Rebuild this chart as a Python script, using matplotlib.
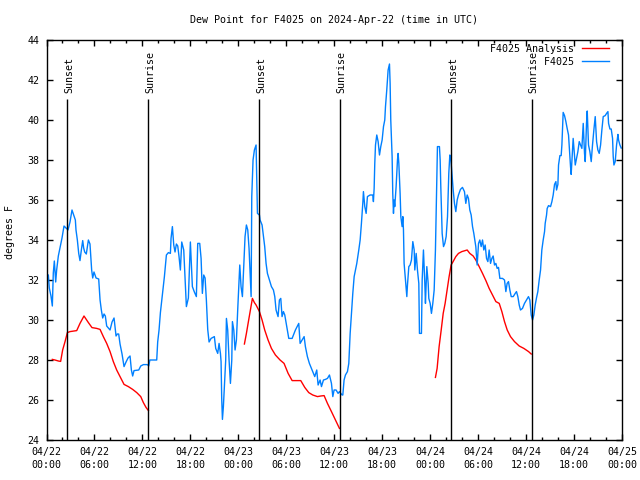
import numpy as np
import matplotlib
matplotlib.use('Agg')
import matplotlib.pyplot as plt

# hours since 2024-04-22 00:00 UTC
obs_hours = [0.0, 0.23, 0.35, 0.56, 0.73, 0.85, 0.98, 1.15, 1.27, 1.48, 1.69, 1.94, 2.19, 2.44, 2.69,
             2.94, 3.19, 3.44, 3.61, 3.69, 3.86, 4.03, 4.19, 4.36, 4.53, 4.65, 4.78, 4.98, 5.24, 5.44,
             5.65, 5.78, 5.94, 6.2, 6.53, 6.7, 6.86, 7.03, 7.2, 7.36, 7.53, 7.95, 8.2, 8.45, 8.7,
             8.86, 9.03, 9.2, 9.45, 9.7, 9.95, 10.2, 10.45, 10.62, 10.78, 10.95, 11.54, 11.79, 12.12, 12.62,
             12.79, 12.93, 13.79, 13.91, 14.08, 14.25, 14.5, 14.75, 15.0, 15.25, 15.5, 15.58, 15.75, 15.92, 16.08,
             16.25, 16.42, 16.58, 16.75, 16.92, 17.17, 17.33, 17.5, 17.75, 18.0, 18.25, 18.5, 18.75, 18.92, 19.17,
             19.34, 19.5, 19.67, 19.84, 20.0, 20.17, 20.34, 20.59, 21.0, 21.17, 21.42, 21.59, 21.76, 21.84, 21.92,
             22.01, 22.13, 22.26, 22.42, 22.51, 22.67, 22.84, 23.01, 23.18, 23.26, 23.43, 23.59, 23.76, 23.93, 24.18,
             24.34, 24.51, 24.68, 24.84, 25.01, 25.18, 25.34, 25.51, 25.6, 25.68, 25.84, 26.01, 26.22, 26.39, 26.64,
             26.72, 26.97, 27.14, 27.3, 27.47, 27.64, 27.89, 28.14, 28.39, 28.56, 28.72, 28.97, 29.14, 29.31, 29.47,
             29.64, 29.81, 30.06, 30.31, 30.73, 31.14, 31.56, 31.73, 31.98, 32.23, 32.39, 32.64, 32.89, 33.23, 33.56,
             33.81, 33.98, 34.23, 34.4, 34.65, 34.9, 35.15, 35.4, 35.65, 35.82, 35.98, 36.23, 36.48, 36.65, 36.98,
             37.07, 37.23, 37.4, 37.65, 37.82, 37.99, 38.15, 38.32, 38.49, 38.65, 38.82, 39.07, 39.24, 39.4, 39.57,
             39.65, 39.82, 39.99, 40.15, 40.49, 40.82, 40.9, 40.99, 41.07, 41.16, 41.32, 41.49, 41.66, 41.82, 41.99,
             42.16, 42.32, 42.41, 42.57, 42.74, 42.91, 42.99, 43.07, 43.24, 43.32, 43.41, 43.49, 43.57, 43.74, 43.91,
             43.99, 44.08, 44.24, 44.33, 44.49, 44.58, 44.66, 44.74, 44.91, 45.08, 45.16, 45.33, 45.49, 45.66, 45.83,
             46.0, 46.08, 46.25, 46.41, 46.58, 46.66, 46.91, 47.0, 47.16, 47.33, 47.41, 47.58, 47.75, 47.83, 48.0,
             48.16, 48.33, 48.5, 48.66, 48.83, 48.91, 49.16, 49.25, 49.33, 49.5, 49.67, 49.83, 50.0, 50.17, 50.33,
             50.42, 50.46, 50.58, 50.71, 50.88, 51.04, 51.21, 51.38, 51.54, 51.79, 52.04, 52.29, 52.46, 52.63, 52.79,
             52.96, 53.13, 53.3, 53.46, 53.71, 53.88, 54.05, 54.21, 54.38, 54.55, 54.71, 54.88, 55.05, 55.22, 55.38,
             55.55, 55.72, 55.88, 56.05, 56.22, 56.38, 56.55, 56.72, 57.05, 57.3, 57.47, 57.63, 57.8, 57.97, 58.14,
             58.39, 58.64, 58.8, 58.97, 59.14, 59.3, 59.55, 59.8, 60.05, 60.3, 60.47, 60.64, 60.81, 60.97, 61.14,
             61.31, 61.47, 61.64, 61.81, 61.97, 62.14, 62.31, 62.39, 62.56, 62.64, 62.81, 63.06, 63.23, 63.39, 63.56,
             63.73, 63.81, 63.98, 64.06, 64.23, 64.39, 64.48, 64.64, 64.81, 64.98, 65.14, 65.31, 65.39, 65.56, 65.64,
             65.73, 65.89, 66.06, 66.15, 66.31, 66.48, 66.65, 66.81, 66.98, 67.15, 67.31, 67.4, 67.56, 67.65, 67.81,
             67.98, 68.15, 68.31, 68.48, 68.65, 68.82, 68.98, 69.15, 69.32, 69.48, 69.65, 69.9, 70.07, 70.24, 70.32,
             70.49, 70.65, 70.82, 70.9, 70.99, 71.15, 71.32, 71.49, 71.57, 71.74, 71.9]
obs_dewpt = [32.3, 32.25, 31.6, 31.2, 30.7, 32.35, 32.95, 31.9, 32.5, 33.2, 33.6, 34.1, 34.7, 34.6, 34.5,
             34.9, 35.5, 35.2, 35.0, 34.5, 34.0, 33.33, 32.97, 33.5, 33.97, 33.6, 33.4, 33.3, 34.0, 33.8,
             32.5, 32.1, 32.4, 32.1, 32.05, 31.0, 30.5, 30.1, 30.3, 30.2, 29.7, 29.5, 29.9, 30.1, 29.2,
             29.3, 29.3, 28.8, 28.3, 27.67, 27.9, 28.1, 28.2, 27.5, 27.2, 27.47, 27.5, 27.7, 27.77, 27.77,
             27.7, 28.0, 28.0, 28.9, 29.5, 30.37, 31.25, 32.17, 33.25, 33.37, 33.33, 34.08, 34.67, 33.75, 33.4,
             33.8, 33.7, 33.17, 32.5, 33.9, 33.5, 32.17, 30.67, 31.1, 33.9, 31.67, 31.4, 31.17, 33.83, 33.83,
             33.08, 31.33, 32.25, 32.1, 31.0, 29.53, 28.9, 29.08, 29.17, 28.58, 28.33, 28.83, 28.33, 27.92, 26.08,
             25.03, 25.67, 26.67, 28.0, 30.08, 29.5, 28.0, 26.83, 28.0, 29.92, 29.5, 28.5, 29.0, 30.58, 32.75,
             31.67, 31.17, 32.67, 34.17, 34.75, 34.5, 33.58, 32.0, 31.17, 36.17, 38.0, 38.5, 38.75, 35.33, 35.25,
             35.0, 34.75, 34.17, 33.67, 32.83, 32.33, 32.0, 31.67, 31.5, 31.17, 30.5, 30.17, 31.0, 31.08, 30.17,
             30.42, 30.25, 29.67, 29.08, 29.08, 29.5, 29.83, 28.83, 29.0, 29.17, 28.67, 28.17, 27.83, 27.5, 27.17,
             27.5, 26.75, 27.0, 26.67, 27.0, 27.03, 27.08, 27.25, 26.83, 26.17, 26.5, 26.5, 26.33, 26.42, 26.25,
             26.25, 27.0, 27.25, 27.42, 27.83, 29.33, 30.33, 31.33, 32.17, 32.5, 32.83, 33.5, 34.0, 34.83, 35.83,
             36.42, 35.67, 35.33, 36.17, 36.25, 36.25, 35.92, 36.58, 37.83, 38.75, 39.25, 38.92, 38.25, 38.67, 39.0,
             39.67, 40.0, 40.67, 41.5, 42.5, 42.8, 41.83, 40.0, 38.17, 36.33, 35.33, 36.0, 35.67, 36.67, 38.0,
             38.33, 37.83, 36.33, 35.17, 34.67, 35.17, 34.5, 32.83, 32.0, 31.17, 31.75, 32.67, 32.75, 33.0, 33.92,
             33.5, 32.5, 33.33, 32.5, 31.83, 29.33, 29.33, 32.0, 33.5, 31.83, 30.83, 32.67, 31.83, 31.08, 30.83,
             30.33, 30.83, 31.5, 33.5, 37.17, 38.67, 38.67, 38.0, 36.67, 34.33, 33.67, 33.83, 34.17, 35.17, 37.33,
             38.0, 38.25, 38.08, 37.42, 36.5, 35.83, 35.42, 36.0, 36.25, 36.53, 36.63, 36.42, 35.83, 36.25, 36.08,
             35.5, 35.25, 34.67, 34.33, 33.67, 32.75, 33.83, 34.0, 33.67, 34.0, 33.5, 33.75, 33.08, 32.92, 33.5,
             32.83, 33.08, 33.2, 32.75, 32.83, 32.58, 32.63, 32.08, 32.08, 32.0, 31.42, 31.83, 31.92, 31.5, 31.17,
             31.17, 31.33, 31.42, 31.17, 30.75, 30.5, 30.58, 30.83, 31.0, 31.17, 31.0, 30.25, 30.0, 30.25, 30.75,
             31.12, 31.42, 32.0, 32.5, 33.5, 34.0, 34.42, 34.83, 35.25, 35.58, 35.72, 35.67, 35.92, 36.25, 36.78,
             36.92, 36.5, 36.78, 37.75, 38.22, 38.22, 38.75, 40.38, 40.22, 39.92, 39.58, 39.25, 38.75, 37.67, 37.28,
             37.92, 39.08, 38.25, 37.75, 38.08, 38.42, 38.92, 38.75, 38.58, 39.83, 38.33, 37.92, 39.83, 40.45, 38.75,
             38.42, 37.92, 38.75, 39.5, 40.17, 38.92, 38.5, 38.33, 38.75, 39.5, 40.17, 40.22, 40.33, 40.42, 39.83,
             39.55, 39.55, 39.08, 38.17, 37.75, 37.92, 38.75, 39.28, 39.0, 38.75, 38.6]

nan = np.nan
ana_hours = [0.73, 1.06, 1.48, 1.77, 2.02, 2.32, 2.61, 2.94, 3.78, 4.19, 4.69, 5.24, 5.69, 6.28, 6.7,
             7.11, 7.53, 7.95, 8.36, 8.78, 9.2, 9.7, 10.24, 10.78, 11.29, 11.79, 12.12, 12.45, 12.75,
             18.0,
             24.76, 25.01, 25.26, 25.51, 25.76, 26.01, 26.22, 26.64, 26.97, 27.3, 27.72, 28.14, 28.64, 29.22,
             29.72, 30.23, 30.73, 31.31, 31.81, 32.31, 32.81, 33.31, 33.9, 34.31, 34.73, 35.15, 35.65, 36.15, 36.65,
             42.0,
             48.66, 48.87, 49.12, 49.38, 49.63, 49.87, 50.12, 50.37, 50.62, 50.87, 51.21, 51.54, 51.96, 52.38,
             52.63, 52.96, 53.38, 53.71, 54.13, 54.55, 54.97, 55.38, 55.8, 56.22, 56.64, 56.97, 57.3, 57.64,
             58.05, 58.55, 59.14, 59.72, 60.31, 60.64]
ana_dewpt = [28.03, 28.0, 27.95, 27.93, 28.5, 28.92, 29.37, 29.42, 29.47, 29.83, 30.2, 29.87, 29.62, 29.58, 29.53,
             29.17, 28.83, 28.42, 27.92, 27.5, 27.17, 26.78, 26.67, 26.53, 26.37, 26.17, 25.87, 25.63, 25.47,
             nan,
             28.8, 29.33, 29.92, 30.5, 31.08, 30.87, 30.75, 30.42, 30.0, 29.5, 29.0, 28.58, 28.25, 28.0,
             27.83, 27.33, 26.97, 26.97, 26.97, 26.63, 26.37, 26.25, 26.17, 26.2, 26.22, 25.83, 25.42, 25.0, 24.58,
             nan,
             27.13, 27.58, 28.67, 29.5, 30.33, 30.83, 31.5, 32.17, 32.75, 32.92, 33.17, 33.33, 33.42, 33.47,
             33.5, 33.33, 33.2, 33.0, 32.67, 32.33, 31.97, 31.58, 31.25, 30.92, 30.83, 30.42, 29.92, 29.5,
             29.17, 28.92, 28.7, 28.58, 28.42, 28.3]

sunset_hours = [2.62, 26.64, 50.66]
sunrise_hours = [12.75, 36.67, 60.68]

tick_hours = [0, 6, 12, 18, 24, 30, 36, 42, 48, 54, 60, 66, 72]
tick_labels = ['04/22\n00:00', '04/22\n06:00', '04/22\n12:00', '04/22\n18:00',
               '04/23\n00:00', '04/23\n06:00', '04/23\n12:00', '04/23\n18:00',
               '04/24\n00:00', '04/24\n06:00', '04/24\n12:00', '04/24\n18:00',
               '04/25\n00:00']

plt.rcParams['font.family'] = ['DejaVu Sans Mono']
plt.rcParams['font.size'] = 7.2

fig = plt.figure(figsize=(6.4, 4.8), dpi=100)
ax = fig.add_axes([46.5 / 640, 40 / 480, 575.5 / 640, 400 / 480])

ax.plot(ana_hours, ana_dewpt, color='#ff0000', lw=1.0, label='F4025 Analysis')
ax.plot(obs_hours, obs_dewpt, color='#0080ff', lw=1.0, label='         F4025')

# sun lines
ax.vlines(sunset_hours + sunrise_hours, 24, 41.05, color='black', lw=1.0)
for h in sunset_hours:
    ax.annotate('Sunset', (h, 41.35), xytext=(1.5, 0), textcoords='offset points',
                rotation=90, ha='center', va='bottom')
for h in sunrise_hours:
    ax.annotate('Sunrise', (h, 41.35), xytext=(1.5, 0), textcoords='offset points',
                rotation=90, ha='center', va='bottom')

ax.set_xlim(0, 72)
ax.set_ylim(24, 44)
ax.set_xticks(tick_hours)
ax.set_xticklabels(tick_labels, linespacing=1.4)
ax.set_xticks(np.arange(0, 73, 2), minor=True)
ax.set_yticks(np.arange(24, 45, 2))
ax.tick_params(which='both', direction='in', top=True, right=True, width=1.0)
ax.tick_params(which='major', length=4.5, pad=5)
ax.tick_params(which='minor', length=2.5)
for s in ax.spines.values():
    s.set_linewidth(1.0)

leg = ax.legend(loc='upper right', bbox_to_anchor=((609 - 46.5) / 575.5, 1 - 4 / 400),
                frameon=False, markerfirst=False, borderpad=0, borderaxespad=0,
                labelspacing=0.3, handlelength=2.7, handletextpad=0.8)

fig.text(334 / 640, 1 - 20 / 480, 'Dew Point for F4025 on 2024-Apr-22 (time in UTC)',
         ha='center', va='center')
fig.text(10 / 640, 1 - 232 / 480, 'degrees F', rotation=90, ha='center', va='center')

fig.savefig('out.png', dpi=100)
